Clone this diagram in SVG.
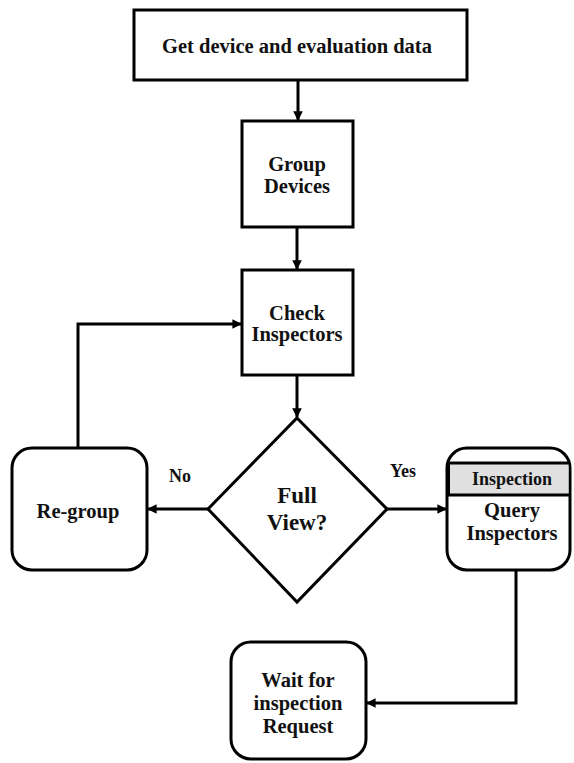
<svg xmlns="http://www.w3.org/2000/svg" width="574" height="763" viewBox="0 0 574 763">
<style>
.box{fill:#fff;stroke:#000;stroke-width:3}
.t{font-family:"Liberation Serif","Times New Roman",serif;font-weight:bold;font-size:20.5px;fill:#111;text-anchor:middle}
.s18{font-size:18px}
.s23{font-size:23px}
.c{fill:none;stroke:#000;stroke-width:3}
</style>
<defs>
<marker id="ah" viewBox="0 0 10 10" refX="9" refY="5" markerWidth="3.2" markerHeight="3.2" orient="auto" markerUnits="strokeWidth">
<path d="M0,0 L10,5 L0,10 z" fill="#000"/>
</marker>
</defs>
<rect width="574" height="763" fill="#fff"/>
<g id="connectors">
<path class="c" d="M298,80 V120" marker-end="url(#ah)"/>
<path class="c" d="M297,227 V269" marker-end="url(#ah)"/>
<path class="c" d="M297,375 V417" marker-end="url(#ah)"/>
<path class="c" d="M208,509 H148" marker-end="url(#ah)"/>
<path class="c" d="M78,448 V324 H241" marker-end="url(#ah)"/>
<path class="c" d="M387,509 H446" marker-end="url(#ah)"/>
<path class="c" d="M516,570 V703 H367" marker-end="url(#ah)"/>
<text class="t s18" x="180" y="482">No</text>
<text class="t s18" x="403" y="477">Yes</text>
</g>
<g id="n1">
<rect class="box" x="134" y="10" width="333" height="70"/>
<text class="t" x="297" y="53">Get device and evaluation data</text>
</g>
<g id="n2">
<rect class="box" x="242" y="121" width="111" height="106"/>
<text class="t" x="297" y="171">Group</text>
<text class="t" x="297" y="193">Devices</text>
</g>
<g id="n3">
<rect class="box" x="242" y="270" width="111" height="105"/>
<text class="t" x="297" y="320">Check</text>
<text class="t" x="297" y="341">Inspectors</text>
</g>
<g id="n4">
<path class="box" d="M297,418 L387,509 L297,602 L208,509 Z"/>
<text class="t s23" x="297" y="503">Full</text>
<text class="t s23" x="297" y="530">View?</text>
</g>
<g id="n5">
<rect class="box" x="12" y="448" width="135" height="122" rx="20"/>
<text class="t" x="78" y="518">Re-group</text>
</g>
<g id="n6">
<rect class="box" x="447" y="448" width="123" height="122" rx="20"/>
<rect x="448.5" y="463" width="120" height="32" fill="#e0e0e0" stroke="none"/>
<path class="c" d="M447,463 H570 M447,495 H570"/>
<path d="M448,463 V495" stroke="#000" stroke-width="4"/>
<text class="t s18" x="512" y="485">Inspection</text>
<text class="t" x="512" y="517">Query</text>
<text class="t" x="512" y="540">Inspectors</text>
</g>
<g id="n7">
<rect class="box" x="231" y="642" width="135" height="117" rx="20"/>
<text class="t" x="298" y="687">Wait for</text>
<text class="t" x="298" y="710">inspection</text>
<text class="t" x="298" y="733">Request</text>
</g>
</svg>
